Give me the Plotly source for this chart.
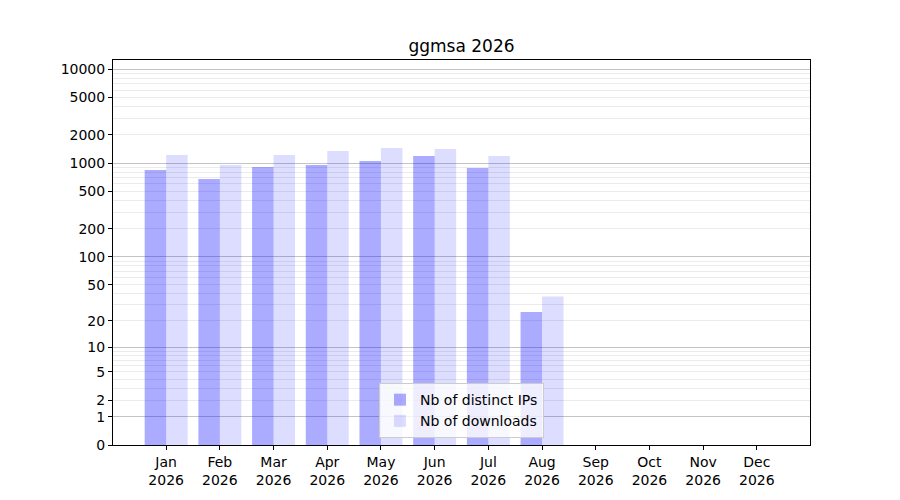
import numpy as np
import plotly.graph_objects as go

# Monthly stats (Sep-Dec not reached yet)
months = ["Jan", "Feb", "Mar", "Apr", "May", "Jun", "Jul", "Aug", "Sep", "Oct", "Nov", "Dec"]
year = "2026"
distinct_ips = [848, 680, 913, 958, 1057, 1195, 890, 25, 0, 0, 0, 0]
downloads = [1225, 958, 1225, 1350, 1455, 1420, 1195, 37, 0, 0, 0, 0]

# Symlog-like axis: value -> log10(1 + value)
label_vals = [0, 1, 2, 5, 10, 20, 50, 100, 200, 500, 1000, 2000, 5000, 10000]
decade_vals = [1, 10, 100, 1000, 10000]
minor_vals = [m * d for d in [1, 10, 100, 1000] for m in range(2, 10)] + [20000]


def tr(v):
    return np.log10(1 + np.asarray(v, dtype=float))


x = list(range(len(months)))
tick_text = [m + "<br>" + year for m in months]

fig = go.Figure()
fig.add_trace(go.Bar(x=x, y=tr(distinct_ips), name="Nb of distinct IPs",
                     marker=dict(color="rgba(0,0,255,0.33)", line=dict(width=0)),
                     customdata=distinct_ips, hovertemplate="%{customdata}"))
fig.add_trace(go.Bar(x=x, y=tr(downloads), name="Nb of downloads",
                     marker=dict(color="rgba(0,0,255,0.135)", line=dict(width=0)),
                     customdata=downloads, hovertemplate="%{customdata}"))

# invisible trace to carry the darker decade gridlines on an overlaid axis
fig.add_trace(go.Scatter(x=[0], y=[0], yaxis="y2", mode="markers",
                         marker=dict(opacity=0), showlegend=False, hoverinfo="skip"))

yrange = [0, 4.099]
fig.update_layout(
    width=900, height=500,
    font=dict(family="DejaVu Sans", size=14, color="black"),
    title=dict(text="ggmsa 2026", x=0.5, xref="paper", xanchor="center",
               y=1 - 38 / 500, yanchor="middle", font=dict(size=17)),
    margin=dict(l=105, r=98, t=52, b=63),
    plot_bgcolor="white", paper_bgcolor="white",
    barmode="group", bargap=0.2, bargroupgap=0,
    xaxis=dict(range=[-0.99, 11.99], tickmode="array", tickvals=x, ticktext=tick_text,
               showgrid=False, zeroline=False, showline=True, linecolor="black", linewidth=1,
               mirror=True, ticks="outside", ticklen=4, tickcolor="black"),
    yaxis=dict(range=yrange, tickmode="array", tickvals=tr(label_vals),
               ticktext=[str(v) for v in label_vals],
               showgrid=True, gridcolor="#ebebeb", gridwidth=1, zeroline=False,
               showline=True, linecolor="black", linewidth=1, mirror=True,
               ticks="outside", ticklen=4, tickcolor="black",
               minor=dict(tickmode="array", tickvals=tr(minor_vals), showgrid=True,
                          gridcolor="#ebebeb", gridwidth=1, ticks="")),
    yaxis2=dict(range=yrange, overlaying="y", side="left", tickmode="array",
                tickvals=tr(decade_vals), showticklabels=False, ticks="",
                showgrid=True, gridcolor="#c4c4c4", gridwidth=1, zeroline=False,
                showline=False),
    legend=dict(x=0.5, xanchor="center", y=0.018, yanchor="bottom",
                bgcolor="rgba(255,255,255,0.8)", bordercolor="#cccccc", borderwidth=1,
                font=dict(size=14)),
)

fig.write_html("out.html")
